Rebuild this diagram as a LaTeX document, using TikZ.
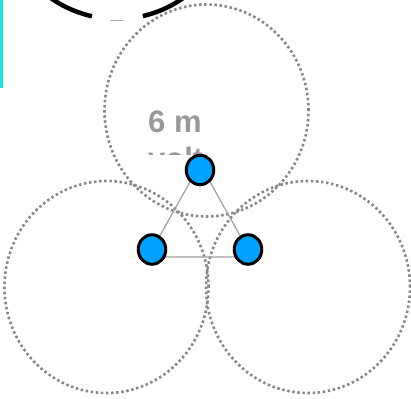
\documentclass[tikz,border=0pt]{standalone}
\usepackage{fontspec}
\setmainfont{Liberation Sans}
\usetikzlibrary{shapes.geometric}
\definecolor{rangegray}{HTML}{888888}
\definecolor{labelgray}{HTML}{999999}
\definecolor{linkgray}{HTML}{A0A0A0}
\definecolor{nodeblue}{HTML}{00A2FF}
\definecolor{barcyan}{HTML}{1DE9D8}
\begin{document}
\begin{tikzpicture}[x=1pt,y=1pt,
  coverzone/.style={draw=rangegray,line width=2.6pt,dash pattern=on 2.5pt off 2.6pt},
  link/.style={draw=linkgray,line width=1.2pt},
  sensor/.style={ellipse,draw=black,line width=3pt,fill=nodeblue,
    minimum width=27.5pt,minimum height=29.5pt,inner sep=0pt}]
\useasboundingbox (0,0) rectangle (411,-398);
\clip (0,0) rectangle (411,-398);

% Bar and arc at the top
\fill[barcyan] (0,0) rectangle (3,-88);
\draw[line width=4.5pt] (117,96) ++(228:115pt) arc[start angle=228,end angle=257.4,radius=115pt];
\draw[line width=4.5pt] (117,96) ++(283:115pt) arc[start angle=283,end angle=312,radius=115pt];
\draw[labelgray!80,line width=1pt] (110,-21) -- (123,-21);

% Coverage zones
\draw[coverzone] (206.5,-110.5) ellipse[x radius=102pt,y radius=106pt];
\draw[coverzone] (106.5,-287) ellipse[x radius=102pt,y radius=106pt];
\draw[coverzone] (308,-287) ellipse[x radius=102pt,y radius=106pt];

% Links
\coordinate (tTop) at (200,-164);
\coordinate (tLeft) at (148,-257);
\coordinate (tRight) at (252,-257);
\draw[link] (tTop) -- (tLeft) -- (tRight) -- cycle;

% Label
\begin{scope}
\clip (140,-100) rectangle (230,-154.5);
\node[anchor=base west,align=left,inner sep=0pt,text=labelgray,
  font=\fontsize{31}{37}\selectfont\bfseries] (lbl) at (148,-169) {6 m\\volt};
\end{scope}

% Sensors
\node[sensor] (nTop) at (200,-170) {};
\node[sensor] (nLeft) at (152,-249.5) {};
\node[sensor] (nRight) at (248,-249.5) {};
\end{tikzpicture}
\end{document}
